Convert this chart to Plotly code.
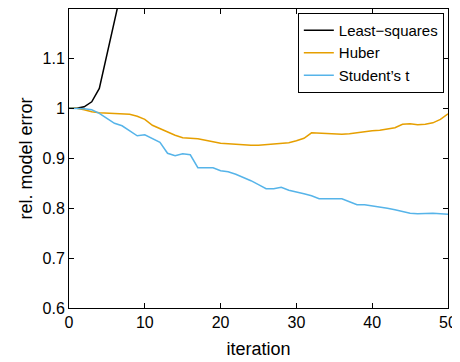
import plotly.graph_objects as go

iterations = list(range(0, 51))

ls_x = [0, 1, 2, 3, 4, 5, 6, 7, 8]
ls_y = [1.000, 1.000, 1.003, 1.013, 1.040, 1.105, 1.170, 1.240, 1.310]

huber_y = [1.000, 1.000, 0.997, 0.993, 0.991, 0.990, 0.990, 0.989, 0.988, 0.984,
           0.978, 0.966, 0.959, 0.953, 0.946, 0.941, 0.940, 0.939, 0.936, 0.933,
           0.930, 0.929, 0.928, 0.926, 0.926, 0.926, 0.927, 0.928, 0.929, 0.931,
           0.935, 0.940, 0.951, 0.950, 0.949, 0.948, 0.948, 0.949, 0.951, 0.954,
           0.955, 0.956, 0.958, 0.961, 0.968, 0.969, 0.967, 0.968, 0.971, 0.978,
           0.989]

student_y = [1.000, 1.000, 0.999, 0.997, 0.990, 0.980, 0.970, 0.965, 0.955, 0.945,
             0.947, 0.940, 0.932, 0.910, 0.905, 0.909, 0.907, 0.881, 0.881, 0.881,
             0.875, 0.873, 0.868, 0.862, 0.855, 0.847, 0.839, 0.839, 0.842, 0.836,
             0.833, 0.829, 0.825, 0.819, 0.819, 0.819, 0.819, 0.813, 0.807, 0.807,
             0.805, 0.803, 0.800, 0.797, 0.794, 0.790, 0.789, 0.790, 0.790, 0.789,
             0.788]

x_ticks = [0, 10, 20, 30, 40, 50]
y_ticks = [0.6, 0.7, 0.8, 0.9, 1.0, 1.1]
y_ticklabels = ["0.6", "0.7", "0.8", "0.9", "1", "1.1"]

font = "Liberation Sans, Arial, sans-serif"

fig = go.Figure()
fig.add_trace(go.Scatter(x=ls_x, y=ls_y, mode="lines", name="Least\u2212squares",
                         line=dict(color="#000000", width=1.5)))
fig.add_trace(go.Scatter(x=iterations, y=huber_y, mode="lines", name="Huber",
                         line=dict(color="#E69F00", width=1.5)))
fig.add_trace(go.Scatter(x=iterations, y=student_y, mode="lines", name="Student\u2019s t",
                         line=dict(color="#56B4E9", width=1.5)))

# page body has an 8px margin, so the figure is sized/offset to compensate
fig.update_layout(
    width=452, height=354,
    margin=dict(l=61, r=12, t=1, b=54, autoexpand=False),
    paper_bgcolor="white", plot_bgcolor="white",
    font=dict(family=font, size=16, color="#000000"),
    showlegend=True,
    legend=dict(x=0.989, y=0.987, xanchor="right", yanchor="top",
                bgcolor="white", bordercolor="#000000", borderwidth=1,
                font=dict(size=15, family=font), tracegroupgap=0,
                itemwidth=30),
)
fig.update_xaxes(range=[0, 50], tickvals=x_ticks, ticks="inside", ticklen=5,
                 tickcolor="#000000", showline=True, linecolor="#000000", linewidth=1,
                 mirror="ticks", showgrid=False, zeroline=False, automargin=False,
                 tickfont=dict(size=16), title=dict(text="iteration", font=dict(size=18), standoff=12))
fig.update_yaxes(range=[0.6, 1.199], tickvals=y_ticks, ticktext=y_ticklabels, ticks="inside",
                 ticklen=5, tickcolor="#000000", showline=True, linecolor="#000000", linewidth=1,
                 mirror="ticks", showgrid=False, zeroline=False, automargin=False,
                 tickfont=dict(size=16), title=dict(text="rel. model error", font=dict(size=18), standoff=5))

fig.write_html("out.html")
